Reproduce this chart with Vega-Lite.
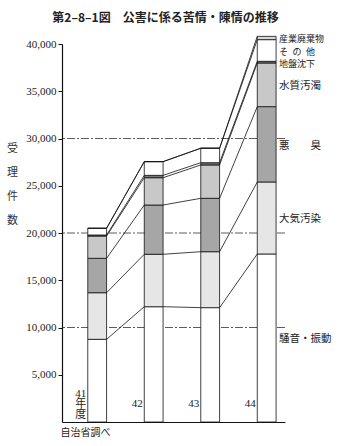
{
  "$schema": "https://vega.github.io/schema/vega-lite/v6.json",
  "autosize": {"type": "none"},
  "padding": {"left": 62, "top": 44, "right": 53, "bottom": 24},
  "width": 223,
  "height": 378,
  "background": "white",
  "config": {"view": {"stroke": null}},
  "title": {"text": "第2–8–1図　公害に係る苦情・陳情の推移", "font": "Noto Sans CJK JP", "fontSize": 12, "fontWeight": "bold", "anchor": "middle", "frame": "group", "offset": 10, "dx": -8, "color": "#222"},
  "data": {"values": [
    {"year": "41", "cat": "騒音・振動", "k": 1, "n": 8750},
    {"year": "41", "cat": "大気汚染", "k": 2, "n": 4930},
    {"year": "41", "cat": "悪臭", "k": 3, "n": 3640},
    {"year": "41", "cat": "水質汚濁", "k": 4, "n": 2360},
    {"year": "41", "cat": "地盤沈下", "k": 5, "n": 110},
    {"year": "41", "cat": "その他", "k": 6, "n": 710},
    {"year": "41", "cat": "産業廃棄物", "k": 7, "n": 0},
    {"year": "42", "cat": "騒音・振動", "k": 1, "n": 12200},
    {"year": "42", "cat": "大気汚染", "k": 2, "n": 5550},
    {"year": "42", "cat": "悪臭", "k": 3, "n": 5210},
    {"year": "42", "cat": "水質汚濁", "k": 4, "n": 2890},
    {"year": "42", "cat": "地盤沈下", "k": 5, "n": 250},
    {"year": "42", "cat": "その他", "k": 6, "n": 1450},
    {"year": "42", "cat": "産業廃棄物", "k": 7, "n": 0},
    {"year": "43", "cat": "騒音・振動", "k": 1, "n": 12100},
    {"year": "43", "cat": "大気汚染", "k": 2, "n": 5920},
    {"year": "43", "cat": "悪臭", "k": 3, "n": 5650},
    {"year": "43", "cat": "水質汚濁", "k": 4, "n": 3530},
    {"year": "43", "cat": "地盤沈下", "k": 5, "n": 240},
    {"year": "43", "cat": "その他", "k": 6, "n": 1530},
    {"year": "43", "cat": "産業廃棄物", "k": 7, "n": 0},
    {"year": "44", "cat": "騒音・振動", "k": 1, "n": 17780},
    {"year": "44", "cat": "大気汚染", "k": 2, "n": 7620},
    {"year": "44", "cat": "悪臭", "k": 3, "n": 7970},
    {"year": "44", "cat": "水質汚濁", "k": 4, "n": 4620},
    {"year": "44", "cat": "地盤沈下", "k": 5, "n": 180},
    {"year": "44", "cat": "その他", "k": 6, "n": 2290},
    {"year": "44", "cat": "産業廃棄物", "k": 7, "n": 350}
  ]},
  "encoding": {
    "x": {
      "field": "year", "type": "nominal",
      "scale": {"domain": ["41", "42", "43", "44"], "paddingInner": 0.667, "paddingOuter": 0.307, "align": 0.743},
      "axis": {
        "title": "自治省調べ", "titleAnchor": "start", "titleAlign": "left", "titleBaseline": "top",
        "titleX": -2, "titleY": 5, "titleFont": "Noto Sans CJK JP", "titleFontSize": 10, "titleFontWeight": "normal", "titleColor": "#222",
        "labelAngle": 0, "ticks": false, "domainColor": "#111", "domainWidth": 1.2,
        "labelExpr": "datum.value == '41' ? ['41', '年', '度'] : ['', datum.value, '']",
        "labelAlign": "right", "labelBaseline": "middle", "labelOffset": -11, "labelPadding": -29,
        "labelFont": "Liberation Serif, Noto Sans CJK JP", "labelFontSize": 11, "labelLineHeight": 10.5, "labelColor": "#222"
      }
    }
  },
  "layer": [
    {
      "data": {"values": [{"g": 10000}, {"g": 20000}, {"g": 30000}]},
      "mark": {"type": "rule", "color": "#333", "strokeWidth": 0.8, "strokeDash": [8, 2, 2, 2]},
      "encoding": {"x": null, "y": {"field": "g", "type": "quantitative"}}
    },
    {
      "mark": {"type": "bar", "stroke": "#111", "strokeWidth": 0.8, "opacity": 1},
      "encoding": {
        "y": {
          "field": "n", "type": "quantitative", "stack": "zero",
          "scale": {"domain": [0, 40000], "nice": false},
          "axis": {
            "values": [5000, 10000, 15000, 20000, 25000, 30000, 35000, 40000], "format": ",d",
            "grid": false, "tickSize": 4, "labelPadding": 2, "tickColor": "#111", "domainColor": "#111", "domainWidth": 1.2,
            "labelFont": "Liberation Serif", "labelFontSize": 11, "labelColor": "#222",
            "title": ["受", "理", "件", "数"], "titleAngle": 0, "titleX": -50, "titleY": 104, "titleAlign": "center", "titleBaseline": "middle",
            "titleLineHeight": 24, "titleFont": "Noto Sans CJK JP", "titleFontSize": 11, "titleFontWeight": "normal", "titleColor": "#333"
          }
        },
        "fill": {
          "field": "cat", "type": "nominal", "legend": null,
          "scale": {
            "domain": ["騒音・振動", "大気汚染", "悪臭", "水質汚濁", "地盤沈下", "その他", "産業廃棄物"],
            "range": ["#ffffff", "#e6e6e6", "#a6a6a6", "#c8c8c8", "#777777", "#ffffff", "#d6d6d6"]
          }
        },
        "order": {"field": "k", "type": "quantitative"}
      }
    },
    {
      "transform": [
        {"stack": "n", "groupby": ["year"], "sort": [{"field": "k"}], "as": ["y0", "y1"]},
        {"window": [{"op": "lead", "field": "y1", "as": "ny"}, {"op": "lead", "field": "year", "as": "nyear"}], "groupby": ["cat"], "sort": [{"field": "year"}]},
        {"filter": "datum.nyear != null"}
      ],
      "mark": {"type": "rule", "color": "#111", "strokeWidth": 0.8},
      "encoding": {
        "x": {"field": "year", "type": "nominal", "bandPosition": 1},
        "x2": {"field": "nyear", "bandPosition": 0},
        "y": {"field": "y1", "type": "quantitative"},
        "y2": {"field": "ny"}
      }
    },
    {
      "transform": [
        {"stack": "n", "groupby": ["year"], "sort": [{"field": "k"}], "as": ["y0", "y1"]},
        {"filter": "datum.year == '44'"},
        {"calculate": "(datum.y0 + datum.y1) / 2", "as": "mid"},
        {"calculate": "datum.cat == '悪臭' ? '悪　　臭' : datum.cat == 'その他' ? 'そ\u2002の\u2002他' : datum.cat", "as": "label"}
      ],
      "mark": {"type": "text", "align": "left", "baseline": "middle", "dx": 3, "dy": 1.5, "font": "Noto Sans CJK JP", "color": "#222"},
      "encoding": {
        "x": {"field": "year", "type": "nominal", "bandPosition": 1},
        "y": {"field": "mid", "type": "quantitative"},
        "text": {"field": "label"},
        "size": {"condition": {"test": "datum.k >= 5", "value": 9}, "value": 10.5}
      }
    }
  ]
}
